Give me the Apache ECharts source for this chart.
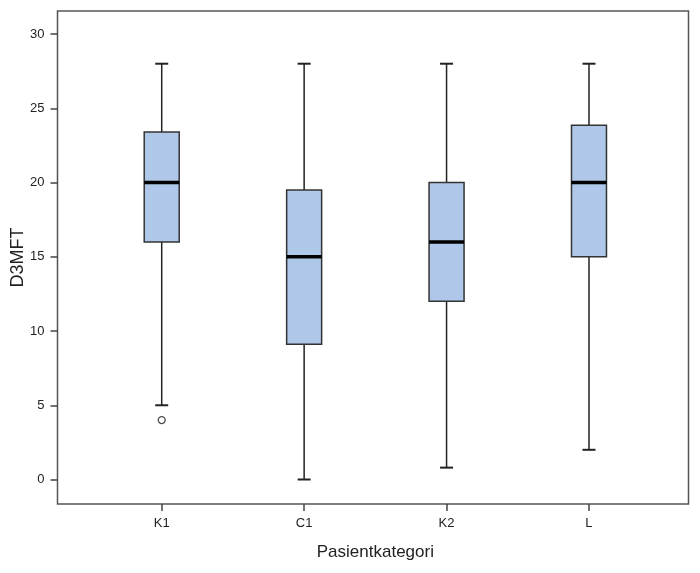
<!DOCTYPE html>
<html><head><meta charset="utf-8">
<script src="https://cdn.jsdelivr.net/npm/echarts@6/dist/echarts.min.js"></script>
<style>html,body{margin:0;padding:0;background:#fff}#c{width:700px;height:573px}</style>
</head><body><div id="c"></div>
<script>
const categories = ['K1', 'C1', 'K2', 'L'];
const whiskerLow = [5, 0, 0.8, 2];
const q1 = [16, 9.1, 12, 15];
const median = [20, 15, 16, 20];
const q3 = [23.4, 19.5, 20, 23.85];
const whiskerHigh = [28, 28, 28, 28];
const outliers = [['K1', 4]];
const yTicks = [0, 5, 10, 15, 20, 25, 30];

const Y_MIN = -1.65, Y_MAX = 31.55;
const boxData = categories.map((c, i) => [i, whiskerLow[i], q1[i], median[i], q3[i], whiskerHigh[i]]);

const chart = echarts.init(document.getElementById('c'), null, {renderer: 'canvas'});
const font = 'Liberation Sans, Arial, sans-serif';
chart.setOption({
  animation: false,
  backgroundColor: '#fff',
  grid: [
    {left: 90.5, width: 569.7, top: 11, height: 493, show: false, outerBoundsMode: 'none', containLabel: false},
    {left: 57.5, width: 631, top: 11, height: 493, show: true, borderColor: '#555', borderWidth: 1.5, backgroundColor: 'transparent', z: 0, outerBoundsMode: 'none', containLabel: false}
  ],
  xAxis: [
    {type: 'category', gridIndex: 0, data: categories, boundaryGap: true, position: 'bottom',
     axisLine: {show: false, onZero: false},
     axisTick: {show: true, alignWithLabel: true, length: 7, lineStyle: {color: '#444', width: 1.5}},
     axisLabel: {color: '#222', fontFamily: font, fontSize: 13, margin: 13},
     name: 'Pasientkategori', nameLocation: 'middle', nameGap: 40, nameMoveOverlap: false,
     nameTextStyle: {fontFamily: font, fontSize: 17, color: '#222'}},
    {type: 'value', gridIndex: 1, show: false, min: 0, max: 1}
  ],
  yAxis: [
    {type: 'value', gridIndex: 0, show: false, min: Y_MIN, max: Y_MAX},
    {type: 'value', gridIndex: 1, min: Y_MIN, max: Y_MAX,
     axisLine: {show: false}, splitLine: {show: false},
     axisTick: {show: true, length: 7, customValues: yTicks, lineStyle: {color: '#444', width: 1.5}},
     axisLabel: {color: '#222', fontFamily: font, fontSize: 13, margin: 13, customValues: yTicks},
     name: 'D3MFT', nameLocation: 'middle', nameGap: 30, nameRotate: 90, nameMoveOverlap: false,
     nameTextStyle: {fontFamily: font, fontSize: 18, color: '#222'}}
  ],
  series: [
    {type: 'custom', xAxisIndex: 0, yAxisIndex: 0, data: boxData, z: 5,
     renderItem: function (params, api) {
       const x = api.value(0);
       const pLo = api.coord([x, api.value(1)]);
       const pQ1 = api.coord([x, api.value(2)]);
       const pMed = api.coord([x, api.value(3)]);
       const pQ3 = api.coord([x, api.value(4)]);
       const pHi = api.coord([x, api.value(5)]);
       const cx = pMed[0];
       const hw = 17.5, cw = 6.5;
       const ls = {stroke: '#222', lineWidth: 1.5};
       return {type: 'group', children: [
         {type: 'line', shape: {x1: cx, y1: pHi[1], x2: cx, y2: pQ3[1]}, style: ls},
         {type: 'line', shape: {x1: cx, y1: pQ1[1], x2: cx, y2: pLo[1]}, style: ls},
         {type: 'line', shape: {x1: cx - cw, y1: pHi[1], x2: cx + cw, y2: pHi[1]}, style: {stroke: '#222', lineWidth: 2}},
         {type: 'line', shape: {x1: cx - cw, y1: pLo[1], x2: cx + cw, y2: pLo[1]}, style: {stroke: '#222', lineWidth: 2}},
         {type: 'rect', shape: {x: cx - hw, y: pQ3[1], width: 2 * hw, height: pQ1[1] - pQ3[1]},
          style: {fill: '#AFC8E9', stroke: '#333', lineWidth: 1.5}},
         {type: 'line', shape: {x1: cx - hw, y1: pMed[1], x2: cx + hw, y2: pMed[1]}, style: {stroke: '#000', lineWidth: 3.5}}
       ]};
     }},
    {type: 'scatter', xAxisIndex: 0, yAxisIndex: 0, data: outliers, symbol: 'circle', symbolSize: 7, z: 6,
     itemStyle: {color: '#fff', borderColor: '#222', borderWidth: 1.3}}
  ]
});
</script></body></html>
